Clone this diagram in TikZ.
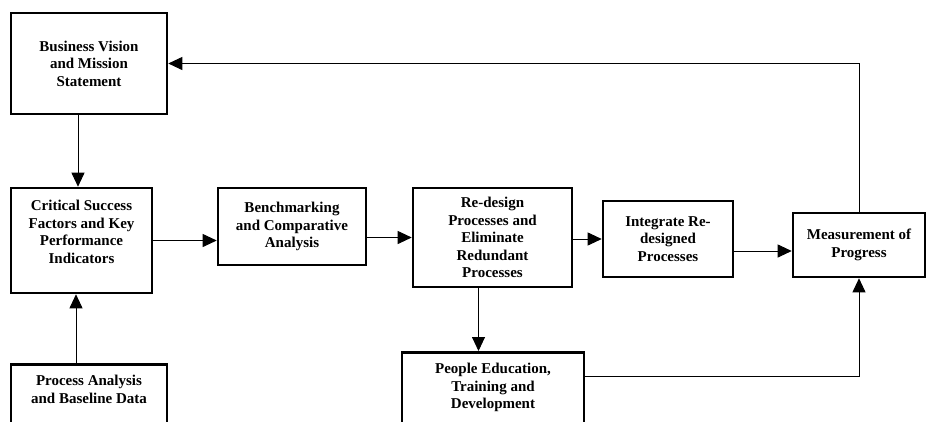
\documentclass[tikz,border=0pt]{standalone}
\usepackage{fontspec}
\setmainfont{Liberation Serif}
\usetikzlibrary{arrows.meta,calc}

\begin{document}
\begin{tikzpicture}[x=1pt,y=-1pt,
	stagebox/.style={draw, line width=2.6pt, align=center, inner sep=0pt,
		font=\fontsize{15}{17.5}\selectfont\bfseries},
	flow/.style={line width=0.9pt, -{Triangle[length=14pt,width=13pt]}}]
			%%%%% START %%%%%
			\useasboundingbox (0,0) rectangle (928,421);
			\clip (0,0) rectangle (928,421);
			\fill[white] (0,0) rectangle (928,421);
			
			\node[stagebox, minimum width=156, minimum height=101] (vision) at (89,63.5) {Business Vision\\and Mission\\Statement};
			\node[stagebox, minimum width=141, minimum height=105] (csf) at (81.5,240.5) {Critical Success\\Factors and Key\\Performance\\Indicators\\\mbox{}};
			\node[stagebox, minimum width=148, minimum height=77] (bench) at (292,226.5) {Benchmarking\\and Comparative\\Analysis};
			\node[stagebox, minimum width=159, minimum height=99] (redesign) at (492.5,237.5) {Re-design\\Processes and\\Eliminate\\Redundant\\Processes};
			\node[stagebox, minimum width=130, minimum height=76] (integrate) at (668,239) {Integrate Re-\\designed\\Processes};
			\node[stagebox, minimum width=132, minimum height=64] (measure) at (859,245) {Measurement of\\Progress};
			
			% boxes running off the bottom edge
			\node[stagebox, anchor=north, minimum width=156, inner ysep=11pt] (analysis) at (89,363) {Process Analysis\\and Baseline Data\\\mbox{}\\\mbox{}};
			\node[stagebox, anchor=north, minimum width=182, inner ysep=11pt] (people) at (493,351) {People Education,\\Training and\\Development\\\mbox{}\\\mbox{}};
			
			\coordinate (measin) at ([yshift=-6pt]measure.west);
			
			\draw[flow] ([xshift=-11pt]vision.south) -- ([xshift=-11pt]vision.south |- csf.north);
			\draw[flow] ([xshift=-13pt]analysis.north) -- ([xshift=-13pt]analysis.north |- csf.south);
			\draw[flow] (csf.east) -- (csf.east -| bench.west);
			\draw[flow] (bench.east |- redesign.west) -- (redesign.west);
			\draw[flow] (redesign.east |- integrate.west) -- (integrate.west);
			\draw[flow] (integrate.east |- measin) -- (measin);
			\draw[flow] ([xshift=-14pt]redesign.south) -- ([xshift=-14pt]redesign.south |- people.north);
			\draw[flow] ([yshift=-25pt]people.north east) -| (measure.south);
			\draw[flow] (measure.north) |- (vision.east);
			%%%%% END %%%%%
\end{tikzpicture}
\end{document}
